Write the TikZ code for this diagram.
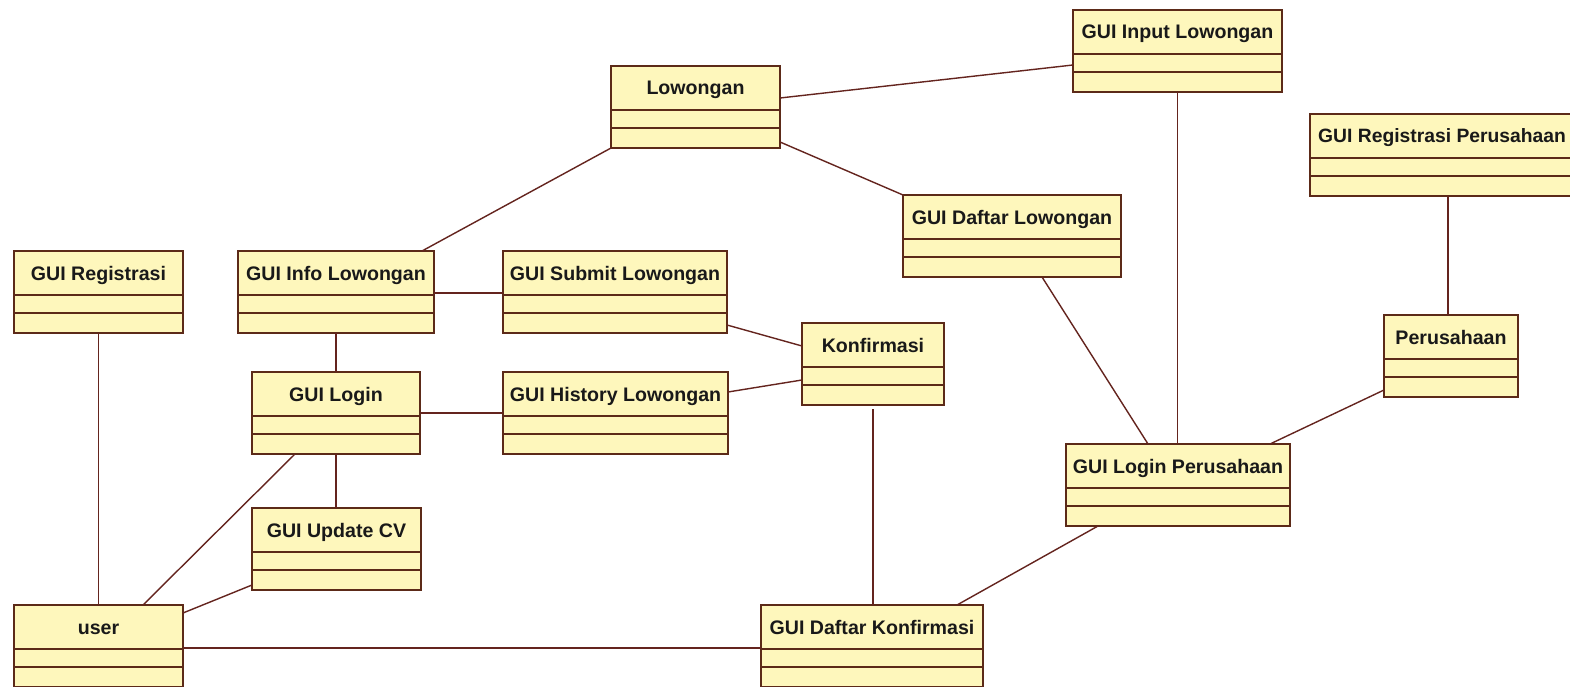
\documentclass[tikz,border=0pt]{standalone}
\usepackage{fontspec}
\setmainfont{Liberation Sans}
\definecolor{boxfill}{RGB}{254,247,188}
\definecolor{boxline}{RGB}{92,42,24}
\definecolor{linkline}{RGB}{100,36,30}
\tikzset{
  classrect/.style={draw=boxline, fill=boxfill, line width=1.6pt, rectangle, inner sep=0pt, outer sep=0pt, minimum height=82pt, anchor=north west},
  divline/.style={draw=boxline, line width=1.6pt},
  classtitle/.style={anchor=base, inner sep=0pt, font=\fontsize{19.6}{22}\selectfont\bfseries, text=black!90},
  link/.style={draw=linkline, line width=1.4pt}
}
\newcommand\classbox[5]{%
  \node[classrect, minimum width=#4pt] (#1) at (#2,#3) {};
  \draw[divline] ([yshift=-44pt]#1.north west) -- ([yshift=-44pt]#1.north east);
  \draw[divline] ([yshift=-62pt]#1.north west) -- ([yshift=-62pt]#1.north east);
  \node[classtitle] (#1-title) at ([yshift=-29pt]#1.north) {#5};
}
\begin{document}
\begin{tikzpicture}[x=1pt, y=-1pt]
\clip (0,0) rectangle (1570,687);
\fill[white] (0,0) rectangle (1570,687);
% connectors
\classbox{reg}{14}{251}{169}{GUI Registrasi}
\classbox{info}{238}{251}{196}{GUI Info Lowongan}
\classbox{login}{252}{372}{168}{GUI Login}
\classbox{upd}{252}{508}{169}{GUI Update CV}
\classbox{user}{14}{605}{169}{user}
\classbox{low}{611}{66}{169}{Lowongan}
\classbox{submit}{503}{251}{224}{GUI Submit Lowongan}
\classbox{hist}{503}{372}{225}{GUI History Lowongan}
\classbox{konf}{802}{323}{142}{Konfirmasi}
\classbox{dkonf}{761}{605}{222}{GUI Daftar Konfirmasi}
\classbox{dlow}{903}{195}{218}{GUI Daftar Lowongan}
\classbox{input}{1073}{10}{209}{GUI Input Lowongan}
\classbox{lper}{1066}{444}{224}{GUI Login Perusahaan}
\classbox{per}{1384}{315}{134}{Perusahaan}
% overflowing box at right edge
\node[classrect, minimum width=276pt] (regper) at (1310,114) {};
\draw[divline] ([yshift=-44pt]regper.north west) -- ([yshift=-44pt]regper.north east);
\draw[divline] ([yshift=-62pt]regper.north west) -- ([yshift=-62pt]regper.north east);
\node[classtitle, anchor=base west, font=\fontsize{19.3}{22}\selectfont\bfseries] (regper-title) at ([xshift=8pt,yshift=-29pt]regper.north west) {GUI Registrasi Perusahaan};
% connectors
\draw[link] ([yshift=-32pt]low.north east) -- ([yshift=-55pt]input.north west);
\draw[link] ([yshift=-76pt]low.north east) -- (dlow.north west);
\draw[link] (low.south west) -- ([xshift=-12pt]info.north east);
\draw[link] ([yshift=-42pt]info.north east) -- ([yshift=-42pt]submit.north west);
\draw[link] (info.south) -- (login.north);
\draw[link] ([yshift=-41pt]login.north east) -- ([yshift=-41pt]hist.north west);
\draw[link] ([yshift=-74pt]submit.north east) -- ([yshift=-23pt]konf.north west);
\draw[link] ([yshift=-20pt]hist.north east) -- ([yshift=-57pt]konf.north west);
\draw[link] ([yshift=-4pt]konf.south) -- (konf.south |- dkonf.north);
\draw[link] (login.south) -- (login.south |- upd.north);
\draw[link] ([xshift=43pt]login.south west) -- ([xshift=129pt]user.north west);
\draw[link] ([yshift=-77pt]upd.north west) -- ([yshift=-8pt]user.north east);
\draw[link] (reg.south) -- (user.north);
\draw[link] ([yshift=-43pt]user.north east) -- ([yshift=-43pt]dkonf.north west);
\draw[link] ([xshift=196pt]dkonf.north west) -- ([xshift=32pt]lper.south west);
\draw[link] ([xshift=139pt]dlow.south west) -- ([xshift=82pt]lper.north west);
\draw[link] (input.south) -- (input.south |- lper.north);
\draw[link] ([yshift=-75pt]per.north west) -- ([xshift=204pt]lper.north west);
\draw[link] (regper.south -| 1448,0) -- (per.north -| 1448,0);
\end{tikzpicture}
\end{document}
